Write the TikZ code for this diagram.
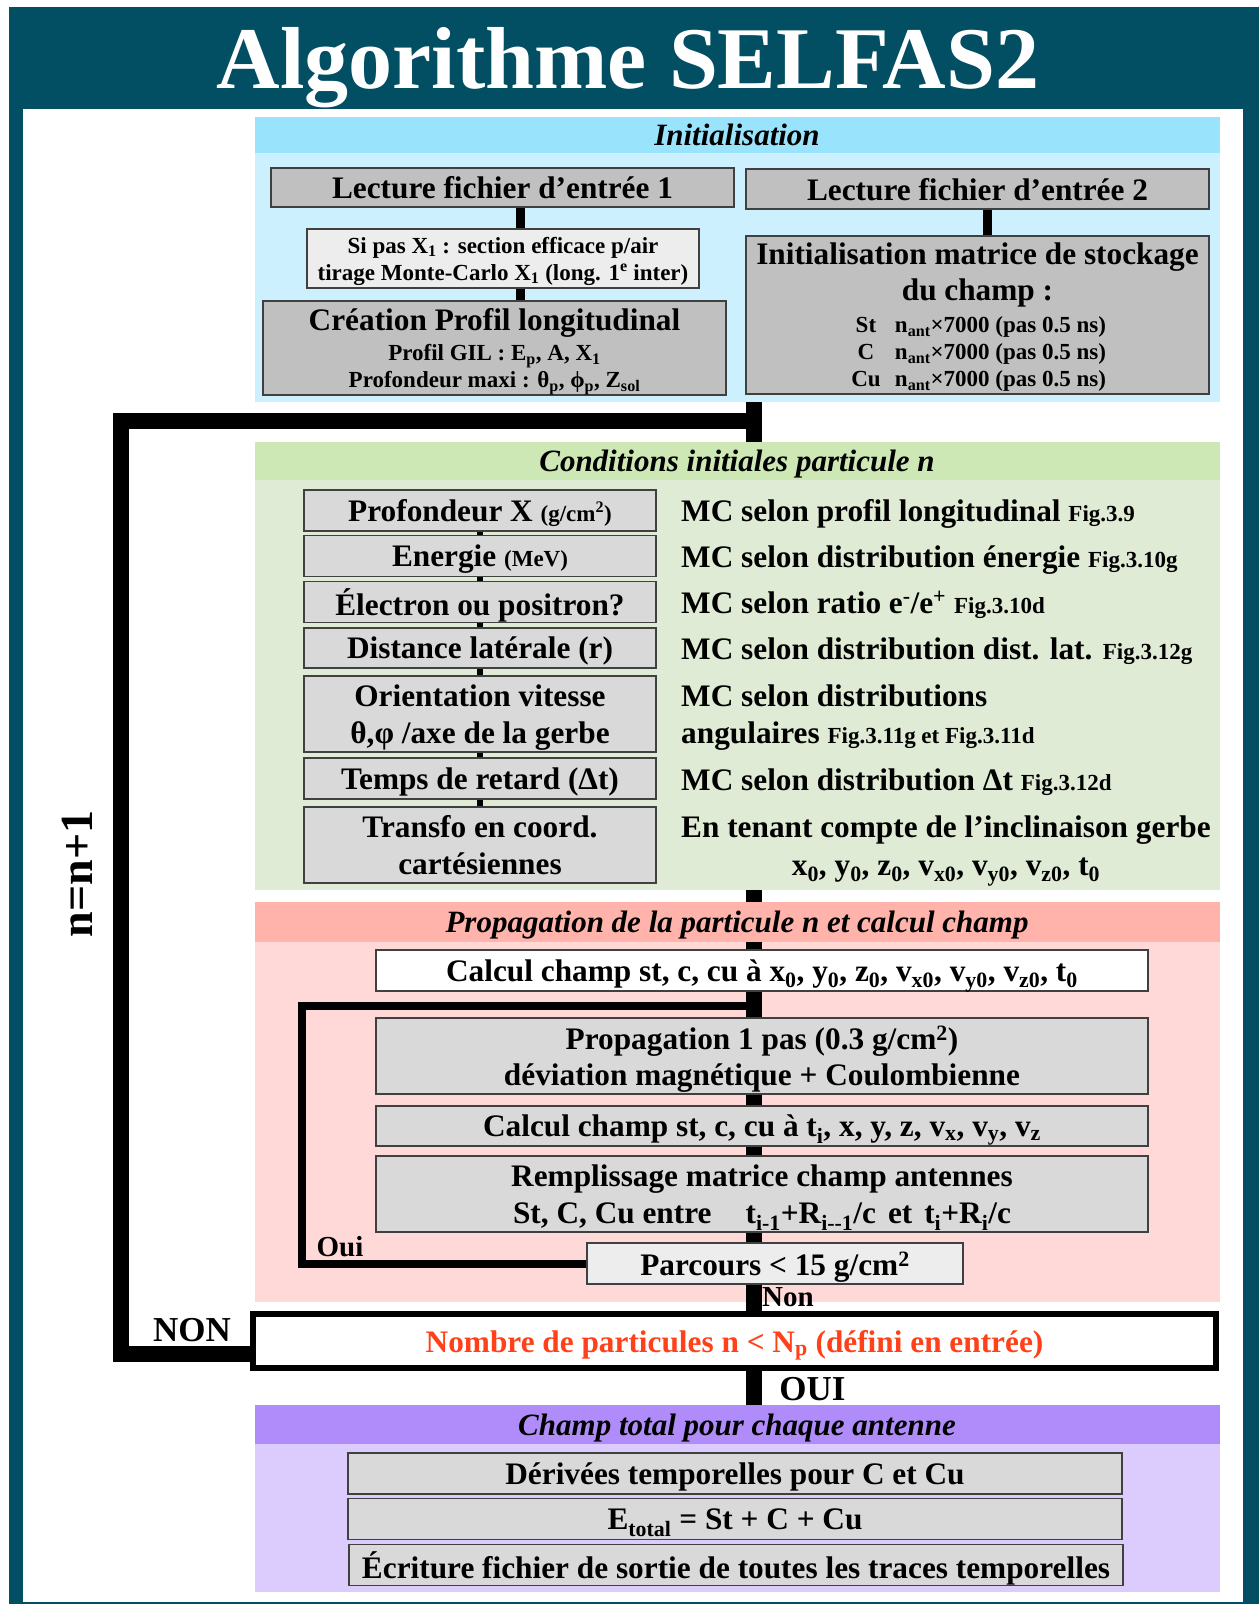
\documentclass[tikz,border=0pt]{standalone}
\usepackage{fontspec}
\setmainfont{Liberation Serif}

\definecolor{framecol}{HTML}{024E63}
\definecolor{inithead}{HTML}{99E3FC}
\definecolor{initbody}{HTML}{CCF0FD}
\definecolor{condhead}{HTML}{CDE8B5}
\definecolor{condbody}{HTML}{E0EBD5}
\definecolor{prophead}{HTML}{FFB3AB}
\definecolor{propbody}{HTML}{FFD9D7}
\definecolor{champhead}{HTML}{AF8CF9}
\definecolor{champbody}{HTML}{DCCBFD}
\definecolor{boxdark}{HTML}{C0C0C0}
\definecolor{boxmid}{HTML}{D9D9D9}
\definecolor{boxlight}{HTML}{EDEDED}
\definecolor{alertred}{HTML}{FF4019}

\newcommand{\bigtxt}{\fontsize{31.3}{36}\selectfont}
\newcommand{\smtxt}{\fontsize{23}{27}\selectfont}
\newcommand{\figtxt}{\fontsize{23}{27}\selectfont}

\begin{document}
\begin{tikzpicture}[
  x=1pt, y=-1pt,
  every node/.style={align=center, inner sep=0pt},
  panel/.style={minimum width=965pt},
  head/.style={panel, text depth=0pt, font=\bfseries\itshape\fontsize{31}{37}\selectfont},
  box/.style={draw=black!75, line width=1.5pt, text depth=0pt, font=\bfseries\bigtxt},
  note/.style={anchor=base west, font=\bfseries\bigtxt},
  tag/.style={font=\bfseries\fontsize{35}{40}\selectfont},
  trunk/.style={line width=16pt},
  link/.style={line width=9pt},
  thinlink/.style={line width=6pt},
  backloop/.style={line width=8pt},
]

% frame and title
\useasboundingbox (0,0) rectangle (1259,1604);
\fill[framecol] (9,7) rectangle (1259,1604);
\fill[white] (23,109) rectangle (1243,1602);
\node[anchor=base, text=white, font=\bfseries\fontsize{88}{100}\selectfont]
  (title) at (628,88) {Algorithme SELFAS2};

% Initialisation
\node[panel, fill=initbody, minimum height=249pt] (initbody) at (737,277.5) {};
\node[head, fill=inithead, minimum height=36pt] (inithead) at (737,135) {Initialisation};
\node[box, fill=boxdark, minimum width=463pt, minimum height=39pt] (lect1) at (502.5,187.5)
  {Lecture fichier d’entrée 1};
\node[box, fill=boxdark, minimum width=463pt, minimum height=40pt] (lect2) at (977.5,189)
  {Lecture fichier d’entrée 2};
\node[box, fill=boxlight, minimum width=392pt, minimum height=59pt, font=\bfseries\smtxt]
  (sipas) at (503,258.5)
  {Si pas X\textsubscript{1} : section efficace p/air\\
   tirage Monte-Carlo X\textsubscript{1} (long. 1\textsuperscript{e} inter)};
\node[box, fill=boxdark, minimum width=463pt, minimum height=94pt] (crea) at (494.5,348)
  {Création Profil longitudinal\\[-6pt]
   {\smtxt Profil GIL : E\textsubscript{p}, A, X\textsubscript{1}}\\[-9pt]
   {\smtxt Profondeur maxi : θ\textsubscript{p}, ϕ\textsubscript{p}, Z\textsubscript{sol}}};
\node[box, fill=boxdark, minimum width=463pt, minimum height=158pt] (matrice) at (977.5,315)
  {Initialisation matrice de stockage\\
   du champ :\\[-4pt]
   {\smtxt\makebox[34pt]{St}\hspace{12pt}n\textsubscript{ant}×7000 (pas 0.5 ns)}\\[-9pt]
   {\smtxt\makebox[34pt]{C}\hspace{12pt}n\textsubscript{ant}×7000 (pas 0.5 ns)}\\[-9pt]
   {\smtxt\makebox[34pt]{Cu}\hspace{12pt}n\textsubscript{ant}×7000 (pas 0.5 ns)}};

\coordinate (lk1) at ([xshift=18pt]lect1.south);
\coordinate (lk2) at ([xshift=10pt]lect2.south);
\draw[link] (lk1) -- (lk1 |- sipas.north);
\draw[link] (lk1 |- sipas.south) -- (lk1 |- crea.north);
\draw[link] (lk2) -- (lk2 |- matrice.north);

% Conditions initiales
\node[panel, fill=condbody, minimum height=410pt] (condbody) at (737,685) {};
\node[head, fill=condhead, minimum height=38pt] (condhead) at (737,461)
  {Conditions initiales particule n};
\node[box, fill=boxmid, minimum width=352pt, minimum height=41pt] (prof) at (480,510.5)
  {Profondeur X {\smtxt (g/cm\textsuperscript{2})}};
\node[box, fill=boxmid, minimum width=352pt, minimum height=41pt] (ener) at (480,556)
  {Energie {\smtxt (MeV)}};
\node[box, fill=boxmid, minimum width=352pt, minimum height=41pt] (elec) at (480,602)
  {Électron ou positron?};
\node[box, fill=boxmid, minimum width=352pt, minimum height=40pt] (dist) at (480,648)
  {Distance latérale (r)};
\node[box, fill=boxmid, minimum width=352pt, minimum height=76pt] (orient) at (480,714)
  {Orientation vitesse\\[1pt] θ,φ /axe de la gerbe};
\node[box, fill=boxmid, minimum width=352pt, minimum height=41pt] (temps) at (480,778.5)
  {Temps de retard (Δt)};
\node[box, fill=boxmid, minimum width=352pt, minimum height=76pt] (transfo) at (480,845)
  {Transfo en coord.\\[1pt] cartésiennes};
\foreach \a/\b in {prof/ener, ener/elec, elec/dist, dist/orient, orient/temps, temps/transfo}
  \draw[thinlink] (\a.south) -- (\b.north);

\node[note] (mc1) at (681,521) {MC selon profil longitudinal {\figtxt Fig.3.9}};
\node[note] (mc2) at (681,567) {MC selon distribution énergie {\figtxt Fig.3.10g}};
\node[note] (mc3) at (681,613)
  {MC selon ratio e\textsuperscript{-}/e\textsuperscript{+} {\figtxt Fig.3.10d}};
\node[note] (mc4) at (681,659) {MC selon distribution dist. lat. {\figtxt Fig.3.12g}};
\node[note] (mc5) at (681,706) {MC selon distributions};
\node[note] (mc5b) at (681,743) {angulaires {\figtxt Fig.3.11g et Fig.3.11d}};
\node[note] (mc6) at (681,790) {MC selon distribution Δt {\figtxt Fig.3.12d}};
\node[note] (mc7) at (681,837) {En tenant compte de l’inclinaison gerbe};
\node[anchor=base, font=\bfseries\bigtxt] (coords) at (946,875)
  {x\textsubscript{0}, y\textsubscript{0}, z\textsubscript{0}, v\textsubscript{x0},
   v\textsubscript{y0}, v\textsubscript{z0}, t\textsubscript{0}};

% Propagation
\node[panel, fill=propbody, minimum height=360pt] (propbody) at (737,1122) {};
\node[head, fill=prophead, minimum height=40pt] (prophead) at (737,922)
  {Propagation de la particule n et calcul champ};
\node[box, fill=white, minimum width=772pt, minimum height=41pt] (calc0) at (762,970.5)
  {Calcul champ st, c, cu à x\textsubscript{0}, y\textsubscript{0}, z\textsubscript{0},
   v\textsubscript{x0}, v\textsubscript{y0}, v\textsubscript{z0}, t\textsubscript{0}};
\node[box, fill=boxmid, minimum width=772pt, minimum height=76pt] (prop1) at (762,1056)
  {Propagation 1 pas (0.3 g/cm\textsuperscript{2})\\[0pt]
   déviation magnétique + Coulombienne};
\node[box, fill=boxmid, minimum width=772pt, minimum height=40pt] (calcti) at (762,1126)
  {Calcul champ st, c, cu à t\textsubscript{i}, x, y, z, v\textsubscript{x},
   v\textsubscript{y}, v\textsubscript{z}};
\node[box, fill=boxmid, minimum width=772pt, minimum height=76pt] (rempl) at (762,1194)
  {Remplissage matrice champ antennes\\[1pt]
   St, C, Cu entre\hspace{34pt}t\textsubscript{i-1}+R\textsubscript{i-{}-1}/c\hspace{12pt}et\hspace{12pt}t\textsubscript{i}+R\textsubscript{i}/c};
\node[box, fill=boxlight, minimum width=376pt, minimum height=41pt] (parc) at (775,1263.5)
  {Parcours < 15 g/cm\textsuperscript{2}};

% decision
\node[draw=black, line width=6pt, fill=white, minimum width=963pt, minimum height=54pt,
  text depth=0pt, text=alertred, font=\bfseries\bigtxt] (dec) at (734.5,1341)
  {Nombre de particules n < N\textsubscript{p} (défini en entrée)};

% Champ total
\node[panel, fill=champbody, minimum height=148pt] (champbody) at (737,1518) {};
\node[head, fill=champhead, minimum height=39pt] (champhead) at (737,1424.5)
  {Champ total pour chaque antenne};
\node[box, fill=boxmid, minimum width=774pt, minimum height=41pt] (deriv) at (735,1473.5)
  {Dérivées temporelles pour C et Cu};
\node[box, fill=boxmid, minimum width=774pt, minimum height=41pt] (etot) at (735,1519)
  {E\textsubscript{total} = St + C + Cu};
\node[box, fill=boxmid, minimum width=774pt, minimum height=41pt] (ecrit) at (736,1565)
  {Écriture fichier de sortie de toutes les traces temporelles};

% trunk and loops
\coordinate (axis) at (754,421);
\coordinate (ret) at (754,1006);
\draw[trunk] (initbody.south -| axis) -- (condhead.north -| axis);
\foreach \a/\b in {condbody/prophead, prophead/calc0, calc0/prop1, prop1/calcti,
                   calcti/rempl, rempl/parc, parc/dec, dec/champhead}
  \draw[trunk] (\a.south -| axis) -- (\b.north -| axis);
\draw[trunk] ([yshift=-13pt]dec.west) -| (121,421) -- (axis);
\draw[backloop] (parc.west) -| (302,1006) -- (ret);

% labels
\node[tag] (non) at (192,1330) {NON};
\node[tag] (oui) at (812.5,1389) {OUI};
\node[font=\bfseries\fontsize{29}{34}\selectfont] (nonsmall) at (788,1297.5) {Non};
\node[font=\bfseries\fontsize{29}{34}\selectfont] (ouismall) at (340,1247) {Oui};
\node[rotate=90, font=\bfseries\fontsize{46}{50}\selectfont] (incr) at (77,874) {n=n+1};

\end{tikzpicture}
\end{document}
